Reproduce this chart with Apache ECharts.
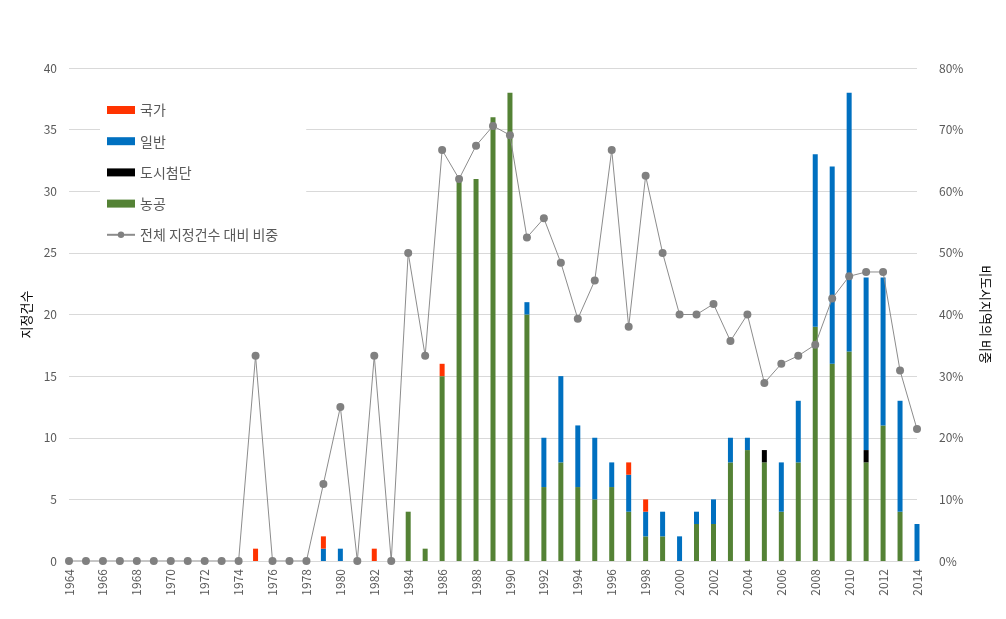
<!DOCTYPE html>
<html><head><meta charset="utf-8">
<script src="https://cdn.jsdelivr.net/npm/echarts@6/dist/echarts.min.js"></script>
<style>html,body{margin:0;padding:0;background:#fff}#c{width:1006px;height:619px}</style>
</head><body><div id="c"></div>
<script>
const years = [];
for (let y = 1964; y <= 2014; y++) years.push(String(y));
// 1964..2014
const nonggong = [0,0,0,0,0,0,0,0,0,0,0, 0,0,0,0,0,0,0,0,0, 4,1,15,31,31,36,38,20,6,8,6,5,6,4,2,2,0,3,3,8,9,8,4,8,19,16,17,8,11,4,0];
const dosi     = [0,0,0,0,0,0,0,0,0,0,0, 0,0,0,0,0,0,0,0,0, 0,0,0,0,0,0,0,0,0,0,0,0,0,0,0,0,0,0,0,0,0,1,0,0,0,0,0,1,0,0,0];
const ilban    = [0,0,0,0,0,0,0,0,0,0,0, 0,0,0,0,1,1,0,0,0, 0,0,0,0,0,0,0,1,4,7,5,5,2,3,2,2,2,1,2,2,1,0,4,5,14,16,21,14,12,9,3];
const gukga    = [0,0,0,0,0,0,0,0,0,0,0, 1,0,0,0,1,0,0,1,0, 0,0,1,0,0,0,0,0,0,0,0,0,0,1,1,0,0,0,0,0,0,0,0,0,0,0,0,0,0,0,0];
const share    = [0,0,0,0,0,0,0,0,0,0,0, 33.3,0,0,0,12.5,25,0,33.3,0, 50,33.3,66.7,62,67.4,70.6,69.1,52.5,55.6,48.4,39.3,45.5,66.7,38,62.5,50,40,40,41.7,35.7,40,28.9,32,33.3,35.1,42.6,46.2,46.9,46.9,30.9,21.4];

const font = '"Noto Sans CJK KR", "Noto Sans", sans-serif';
const txt = '#595959';
const chart = echarts.init(document.getElementById('c'), null, {renderer: 'canvas'});
const barBase = {type: 'bar', stack: 'a', barWidth: 5, yAxisIndex: 0};
chart.setOption({
  animation: false,
  textStyle: {fontFamily: font},
  grid: {left: 69, right: 89, top: 68, bottom: 58, containLabel: false},
  legend: {
    orient: 'vertical', left: 100, top: 97, itemGap: 17.2,
    backgroundColor: '#fff', padding: [6, 28, 8, 6],
    itemWidth: 28, itemHeight: 8,
    textStyle: {fontSize: 14, color: txt, fontFamily: font},
    data: [
      {name: '국가', icon: 'rect'},
      {name: '일반', icon: 'rect'},
      {name: '도시첨단', icon: 'rect'},
      {name: '농공', icon: 'rect'},
      {name: '전체 지정건수 대비 비중'}
    ]
  },
  xAxis: {
    type: 'category', data: years, boundaryGap: false,
    axisLine: {lineStyle: {color: '#d9d9d9'}},
    axisTick: {show: false},
    axisLabel: {interval: 1, rotate: 90, color: txt, fontSize: 12, margin: 8, fontFamily: font}
  },
  yAxis: [
    {type: 'value', min: 0, max: 40, interval: 5,
     name: '지정건수', nameLocation: 'middle', nameGap: 36, nameRotate: 90,
     nameTextStyle: {color: '#000', fontSize: 13, fontFamily: font},
     axisLine: {show: false}, axisTick: {show: false},
     axisLabel: {color: txt, fontSize: 12, margin: 12},
     splitLine: {lineStyle: {color: '#d9d9d9'}}},
    {type: 'value', min: 0, max: 80, interval: 10, position: 'right',
     name: '비도시지역의 비중', nameLocation: 'middle', nameGap: 62, nameRotate: -90,
     nameTextStyle: {color: '#000', fontSize: 13, fontFamily: font},
     axisLine: {show: false}, axisTick: {show: false},
     axisLabel: {color: txt, fontSize: 12, margin: 22, formatter: '{value}%'},
     splitLine: {show: false}}
  ],
  series: [
    Object.assign({}, barBase, {name: '농공', data: nonggong, itemStyle: {color: '#548235'}}),
    Object.assign({}, barBase, {name: '도시첨단', data: dosi, itemStyle: {color: '#000000'}}),
    Object.assign({}, barBase, {name: '일반', data: ilban, itemStyle: {color: '#0070c0'}}),
    Object.assign({}, barBase, {name: '국가', data: gukga, itemStyle: {color: '#ff3300'}}),
    {type: 'line', name: '전체 지정건수 대비 비중', yAxisIndex: 1, data: share,
     symbol: 'circle', symbolSize: 8,
     lineStyle: {color: '#8c8c8c', width: 1},
     itemStyle: {color: '#808080'}, z: 5}
  ]
});
</script></body></html>
